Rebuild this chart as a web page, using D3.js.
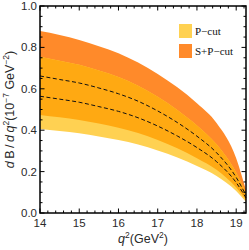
<!DOCTYPE html>
<html>
<head>
<meta charset="utf-8">
<script src="https://cdn.jsdelivr.net/npm/d3@7"></script>
<style>
  body { margin: 0; background: #fff; }
  svg { display: block; }
  .tick-label { font-family: "Liberation Sans", Arial, sans-serif; font-size: 11.5px; fill: #2a2a2a; }
</style>
</head>
<body>
<div id="chart"></div>
<script>
// q^2 sample points (GeV^2)
const q2 = [14, 14.5, 15, 15.5, 16, 16.5, 17, 17.5, 18, 18.5, 19, 19.25];
// S+P-cut band and central value
const spHigh    = [0.879, 0.860, 0.836, 0.806, 0.772, 0.727, 0.672, 0.607, 0.530, 0.435, 0.265, 0.110];
const spLow     = [0.474, 0.462, 0.449, 0.432, 0.412, 0.386, 0.353, 0.313, 0.265, 0.209, 0.123, 0.062];
const spCentral = [0.662, 0.645, 0.628, 0.604, 0.576, 0.540, 0.493, 0.437, 0.371, 0.291, 0.172, 0.086];
// P-cut band and central value
const pHigh     = [0.755, 0.736, 0.716, 0.689, 0.657, 0.615, 0.562, 0.498, 0.423, 0.332, 0.196, 0.098];
const pLow      = [0.406, 0.396, 0.385, 0.370, 0.353, 0.331, 0.302, 0.268, 0.227, 0.179, 0.106, 0.053];
const pCentral  = [0.564, 0.550, 0.535, 0.514, 0.491, 0.460, 0.420, 0.372, 0.316, 0.248, 0.147, 0.073];

const xTicks = [14, 15, 16, 17, 18, 19];
const yTicks = [0.0, 0.2, 0.4, 0.6, 0.8, 1.0];
const legendLabels = ["P\u2212cut", "S+P\u2212cut"];

const colSP = "#ff8a2a", colP = "#ffd152", colBoth = "#ffa912";

const W = 249, H = 250;
const m = { left: 40, right: 3, top: 6, bottom: 37 };

const svg = d3.select("#chart").append("svg").attr("width", W).attr("height", H);

const x = d3.scaleLinear().domain([14, 19.25]).range([m.left, W - m.right]);
const y = d3.scaleLinear().domain([0, 1]).range([H - m.bottom, m.top]);

const rows = q2.map((q, i) => ({
  q, spHigh: spHigh[i], spLow: spLow[i], spCentral: spCentral[i],
  pHigh: pHigh[i], pLow: pLow[i], pCentral: pCentral[i]
}));

const band = (lo, hi) => d3.area().curve(d3.curveMonotoneX)
  .x(d => x(d.q)).y0(d => y(lo(d))).y1(d => y(hi(d)));

const g = svg.append("g");
g.append("path").datum(rows).attr("fill", colSP).attr("d", band(d => d.spLow, d => d.spHigh));
g.append("path").datum(rows).attr("fill", colP).attr("d", band(d => d.pLow, d => d.pHigh));
g.append("path").datum(rows).attr("fill", colBoth).attr("d", band(d => d.spLow, d => d.pHigh));

const line = key => d3.line().curve(d3.curveMonotoneX).x(d => x(d.q)).y(d => y(d[key]));
["spCentral", "pCentral"].forEach(k => {
  g.append("path").datum(rows).attr("fill", "none").attr("stroke", "#111")
    .attr("stroke-width", 1).attr("stroke-dasharray", "4,2.5").attr("d", line(k));
});

// axes with inside ticks on all four sides
const x0 = m.left, x1 = W - m.right, y0 = H - m.bottom, y1 = m.top;
const axes = svg.append("g").attr("stroke", "#000");
const xMinor = d3.range(14, 19.25, 0.2);
xMinor.forEach(v => {
  const major = Math.abs(v - Math.round(v)) < 1e-6;
  const len = major ? 4.5 : 2.5;
  axes.append("line").attr("x1", x(v)).attr("x2", x(v)).attr("y1", y0).attr("y2", y0 - len).attr("stroke-width", 1);
  axes.append("line").attr("x1", x(v)).attr("x2", x(v)).attr("y1", y1).attr("y2", y1 + len).attr("stroke-width", 1);
});
const yMinor = d3.range(0, 1.0001, 0.05);
yMinor.forEach(v => {
  const major = Math.abs(v * 5 - Math.round(v * 5)) < 1e-6;
  const len = major ? 4.5 : 2.5;
  axes.append("line").attr("y1", y(v)).attr("y2", y(v)).attr("x1", x0).attr("x2", x0 + len).attr("stroke-width", 1);
  axes.append("line").attr("y1", y(v)).attr("y2", y(v)).attr("x1", x1).attr("x2", x1 - len).attr("stroke-width", 1);
});
axes.append("rect").attr("x", x0).attr("y", y1).attr("width", x1 - x0).attr("height", y0 - y1)
  .attr("fill", "none").attr("stroke-width", 1.5);

svg.selectAll(".xl").data(xTicks).enter().append("text").attr("class", "tick-label")
  .attr("x", d => x(d)).attr("y", y0 + 14).attr("text-anchor", "middle").text(d => d);
svg.selectAll(".yl").data(yTicks).enter().append("text").attr("class", "tick-label")
  .attr("x", x0 - 3).attr("y", d => y(d) + 4).attr("text-anchor", "end").text(d => d.toFixed(1));

// axis titles
const xt = svg.append("text").attr("class", "tick-label").attr("x", (x0 + x1) / 2).attr("y", 243)
  .attr("text-anchor", "middle").style("font-size", "12.5px");
xt.append("tspan").style("font-style", "italic").text("q");
xt.append("tspan").attr("dy", -5).style("font-size", "8.5px").text("2");
xt.append("tspan").attr("dy", 5).text("(GeV");
xt.append("tspan").attr("dy", -5).style("font-size", "8.5px").text("2");
xt.append("tspan").attr("dy", 5).text(")");

const yt = svg.append("text").attr("class", "tick-label")
  .attr("transform", `translate(14, ${(y0 + y1) / 2}) rotate(-90)`)
  .attr("text-anchor", "middle").style("font-size", "12.5px");
yt.append("tspan").style("font-style", "italic").text("d");
yt.append("tspan").text("\u2009B\u2009/\u2009");
yt.append("tspan").style("font-style", "italic").text("d\u2009q");
yt.append("tspan").attr("dy", -5).style("font-size", "8.5px").text("2");
yt.append("tspan").attr("dy", 5).text("(10");
yt.append("tspan").attr("dy", -5).style("font-size", "8.5px").text("\u22127");
yt.append("tspan").attr("dy", 5).text(" GeV");
yt.append("tspan").attr("dy", -5).style("font-size", "8.5px").text("\u22122");
yt.append("tspan").attr("dy", 5).text(")");

// legend
const leg = svg.append("g").attr("transform", "translate(179, 24)");
[colP, colSP].forEach((c, i) => {
  leg.append("rect").attr("x", 0).attr("y", i * 20).attr("width", 13).attr("height", 14).attr("fill", c);
  leg.append("text").attr("x", 16).attr("y", i * 20 + 11)
    .style("font-family", "'Liberation Serif', 'Times New Roman', serif").style("font-size", "11px")
    .attr("fill", "#111").text(legendLabels[i]);
});
</script>
</body>
</html>
